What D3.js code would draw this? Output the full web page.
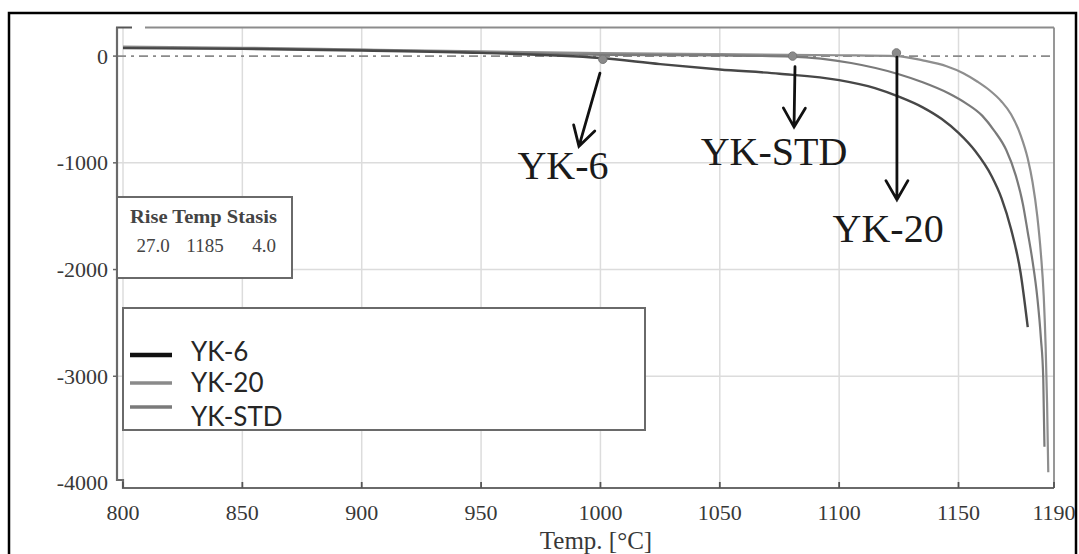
<!DOCTYPE html>
<html>
<head>
<meta charset="utf-8">
<script src="https://cdn.jsdelivr.net/npm/d3@7"></script>
<style>
  html, body { margin: 0; padding: 0; background: #fff; }
  svg { display: block; }
</style>
</head>
<body>
<svg id="chart" width="1079" height="554"></svg>
<script>
// Dilatometer curves: expansion vs temperature for three samples
const seriesNames = ["YK-6", "YK-20", "YK-STD"];

const yk6Temp = [800, 850, 900, 950, 1000, 1025, 1050, 1075, 1100, 1115, 1125, 1135, 1143, 1150, 1157, 1164, 1168, 1172, 1176, 1179];
const yk6Val  = [75, 68, 52, 30, -18, -75, -125, -165, -225, -300, -380, -480, -590, -720, -890, -1130, -1330, -1620, -2030, -2540];

const yk20Temp = [800, 850, 900, 950, 1000, 1050, 1100, 1124, 1135, 1145, 1152, 1158, 1163, 1168, 1172, 1176, 1179, 1181, 1183, 1184.5, 1185.7, 1186.5, 1187.1, 1187.6];
const yk20Val  = [88, 78, 62, 45, 28, 18, 8, 0, -40, -95, -160, -240, -320, -425, -545, -740, -960, -1180, -1500, -1850, -2250, -2720, -3250, -3900];

const ykStdTemp = [800, 850, 900, 950, 1000, 1050, 1080, 1105, 1125, 1135, 1146, 1153, 1160, 1165, 1170, 1174, 1177, 1179, 1181, 1183, 1184.5, 1185.5, 1186];
const ykStdVal  = [80, 72, 58, 35, 12, 6, -5, -65, -170, -245, -350, -440, -560, -700, -880, -1120, -1390, -1650, -1920, -2260, -2640, -3020, -3660];

// onset markers (temp, value) for YK-6, YK-STD, YK-20
const markerTemp = [1001, 1080.5, 1124];
const markerVal  = [-30, 0, 30];

// annotation arrows: start/end in data units and label anchor
const noteText      = ["YK-6", "YK-STD", "YK-20"];
const noteFromTemp  = [999.8, 1081.5, 1124.2];
const noteFromVal   = [-160, -100, -10];
const noteToTemp    = [991, 1081.1, 1124.2];
const noteToVal     = [-845, -665, -1345];
const noteLabelTemp = [984.3, 1072.7, 1120.5];
const noteLabelVal  = [-1155, -1022, -1745];

const xTicks = [800, 850, 900, 950, 1000, 1050, 1100, 1150, 1190];
const yTicks = [0, -1000, -2000, -3000, -4000];
const xTitle = "Temp. [°C]";

const infoHeader = "Rise Temp Stasis";
const infoValues = ["27.0", "1185", "4.0"];

const svg = d3.select("#chart");

// outer frame
svg.append("rect")
  .attr("x", 9).attr("y", 13).attr("width", 1067).attr("height", 560)
  .attr("fill", "#fff").attr("stroke", "#000").attr("stroke-width", 2.5);

const x = d3.scaleLinear().domain([800, 1190]).range([123, 1054]);
const y = d3.scaleLinear().domain([268, -4000]).range([27.5, 483]);

const x0 = 117, xAxisY = 488;
const yTop = y(268);

// grid
const grid = svg.append("g").attr("stroke", "#dcdcdc").attr("stroke-width", 1.5);
grid.selectAll("line.v").data(xTicks.slice(0, -1)).join("line")
  .attr("x1", d => x(d)).attr("x2", d => x(d))
  .attr("y1", yTop).attr("y2", xAxisY);
grid.selectAll("line.h").data(yTicks.filter(d => d !== 0 && d !== -4000)).join("line")
  .attr("x1", x0).attr("x2", x(1190))
  .attr("y1", d => y(d)).attr("y2", d => y(d));

// zero reference line (dash-dot)
svg.append("line")
  .attr("x1", x0).attr("x2", x(1190))
  .attr("y1", y(0)).attr("y2", y(0))
  .attr("stroke", "#8a8a8a").attr("stroke-width", 1.8)
  .attr("stroke-dasharray", "9,5,3,5");

// frame: top and right borders
svg.append("line")
  .attr("x1", 145).attr("x2", x(1190)).attr("y1", yTop).attr("y2", yTop)
  .attr("stroke", "#8c8c8c").attr("stroke-width", 1.8);
svg.append("line")
  .attr("x1", x0 - 1).attr("x2", 132).attr("y1", yTop).attr("y2", yTop)
  .attr("stroke", "#555").attr("stroke-width", 2);
svg.append("line")
  .attr("x1", x(1190)).attr("x2", x(1190)).attr("y1", yTop).attr("y2", xAxisY)
  .attr("stroke", "#8c8c8c").attr("stroke-width", 1.8);

// axes lines (y axis steps into x axis)
svg.append("path")
  .attr("d", `M${x0},${yTop} V${y(-4000) - 3} H${x(800)} V${xAxisY} H${x(1190)}`)
  .attr("fill", "none").attr("stroke", "#6a6a6a").attr("stroke-width", 2.2);

// x ticks (inside) and labels
svg.append("g").selectAll("line").data(xTicks).join("line")
  .attr("x1", d => x(d)).attr("x2", d => x(d))
  .attr("y1", xAxisY).attr("y2", xAxisY - 6)
  .attr("stroke", "#555").attr("stroke-width", 1.8);
svg.append("g").selectAll("text").data(xTicks).join("text")
  .attr("x", d => x(d)).attr("y", 520)
  .attr("text-anchor", "middle")
  .attr("font-family", "Liberation Serif, serif").attr("font-size", 22)
  .attr("fill", "#383838")
  .text(d => d);
svg.append("text")
  .attr("x", 596).attr("y", 549)
  .attr("text-anchor", "middle")
  .attr("font-family", "Liberation Serif, serif").attr("font-size", 25)
  .attr("fill", "#383838")
  .text(xTitle);

// y ticks and labels
svg.append("g").selectAll("line").data(yTicks.slice(0, -1)).join("line")
  .attr("x1", x0 - 4).attr("x2", x0)
  .attr("y1", d => y(d)).attr("y2", d => y(d))
  .attr("stroke", "#666").attr("stroke-width", 1.5);
svg.append("g").selectAll("text").data(yTicks).join("text")
  .attr("x", 108).attr("y", d => y(d))
  .attr("dy", "0.34em")
  .attr("text-anchor", "end")
  .attr("font-family", "Liberation Serif, serif").attr("font-size", 22)
  .attr("fill", "#383838")
  .text(d => d);

// curves
const seriesData = [
  { name: "YK-6",   t: yk6Temp,   v: yk6Val,   color: "#474747", width: 2.4 },
  { name: "YK-STD", t: ykStdTemp, v: ykStdVal, color: "#7a7a7a", width: 2.2 },
  { name: "YK-20",  t: yk20Temp,  v: yk20Val,  color: "#8e8e8e", width: 2.2 }
];
const line = d3.line()
  .x(d => x(d[0])).y(d => y(d[1]))
  .curve(d3.curveMonotoneX);
svg.append("g").selectAll("path").data(seriesData.slice().reverse()).join("path")
  .attr("d", s => line(s.t.map((t, i) => [t, s.v[i]])))
  .attr("fill", "none")
  .attr("stroke", s => s.color)
  .attr("stroke-width", s => s.width)
  .attr("stroke-linejoin", "round");

// onset markers
svg.append("g").selectAll("circle").data(markerTemp).join("circle")
  .attr("cx", d => x(d)).attr("cy", (d, i) => y(markerVal[i]))
  .attr("r", 4.2)
  .attr("fill", "#8a8a8a").attr("stroke", "#777").attr("stroke-width", 1);

// annotation arrows
const notes = svg.append("g");
noteText.forEach((txt, i) => {
  const xa = x(noteFromTemp[i]), ya = y(noteFromVal[i]);
  const xb = x(noteToTemp[i]), yb = y(noteToVal[i]);
  const ang = Math.atan2(yb - ya, xb - xa);
  const len = 22, spread = Math.PI / 6;
  const h1 = [xb - len * Math.cos(ang - spread), yb - len * Math.sin(ang - spread)];
  const h2 = [xb - len * Math.cos(ang + spread), yb - len * Math.sin(ang + spread)];
  notes.append("path")
    .attr("d", `M${xa},${ya} L${xb},${yb} M${h1[0]},${h1[1]} L${xb},${yb} L${h2[0]},${h2[1]}`)
    .attr("fill", "none").attr("stroke", "#111").attr("stroke-width", 2.8)
    .attr("stroke-linecap", "round").attr("stroke-linejoin", "miter");
  notes.append("text")
    .attr("x", x(noteLabelTemp[i])).attr("y", y(noteLabelVal[i]))
    .attr("text-anchor", "middle")
    .attr("font-family", "Liberation Serif, serif").attr("font-size", 40)
    .attr("fill", "#1a1a1a")
    .text(txt);
});

// program info box
const info = svg.append("g");
info.append("rect")
  .attr("x", 117).attr("y", 197).attr("width", 175).attr("height", 81)
  .attr("fill", "#fff").attr("stroke", "#6a6a6a").attr("stroke-width", 2);
info.append("text")
  .attr("x", 130).attr("y", 223)
  .attr("font-family", "Liberation Serif, serif").attr("font-size", 18)
  .attr("font-weight", "bold").attr("fill", "#444")
  .attr("textLength", 147).attr("lengthAdjust", "spacingAndGlyphs")
  .text(infoHeader);
const infoX = [153, 205, 264];
info.selectAll("text.v").data(infoValues).join("text")
  .attr("x", (d, i) => infoX[i]).attr("y", 252)
  .attr("text-anchor", "middle")
  .attr("font-family", "Liberation Serif, serif").attr("font-size", 19)
  .attr("fill", "#444")
  .text(d => d);

// legend
const legend = svg.append("g");
legend.append("rect")
  .attr("x", 123).attr("y", 308).attr("width", 522).attr("height", 122)
  .attr("fill", "#fff").attr("stroke", "#6a6a6a").attr("stroke-width", 2);
const legendColors = ["#111", "#8a8a8a", "#7a7a7a"];
const legendWidths = [4.5, 3.5, 3.5];
const swatchY = [355, 383, 407];
const labelY = [361, 392, 426];
legend.selectAll("line").data(seriesNames).join("line")
  .attr("x1", 130).attr("x2", 172)
  .attr("y1", (d, i) => swatchY[i]).attr("y2", (d, i) => swatchY[i])
  .attr("stroke", (d, i) => legendColors[i])
  .attr("stroke-width", (d, i) => legendWidths[i]);
legend.selectAll("text").data(seriesNames).join("text")
  .attr("x", 191).attr("y", (d, i) => labelY[i])
  .attr("font-family", "Lato, sans-serif").attr("font-size", 26)
  .attr("fill", "#262626")
  .text(d => d);
</script>
</body>
</html>
